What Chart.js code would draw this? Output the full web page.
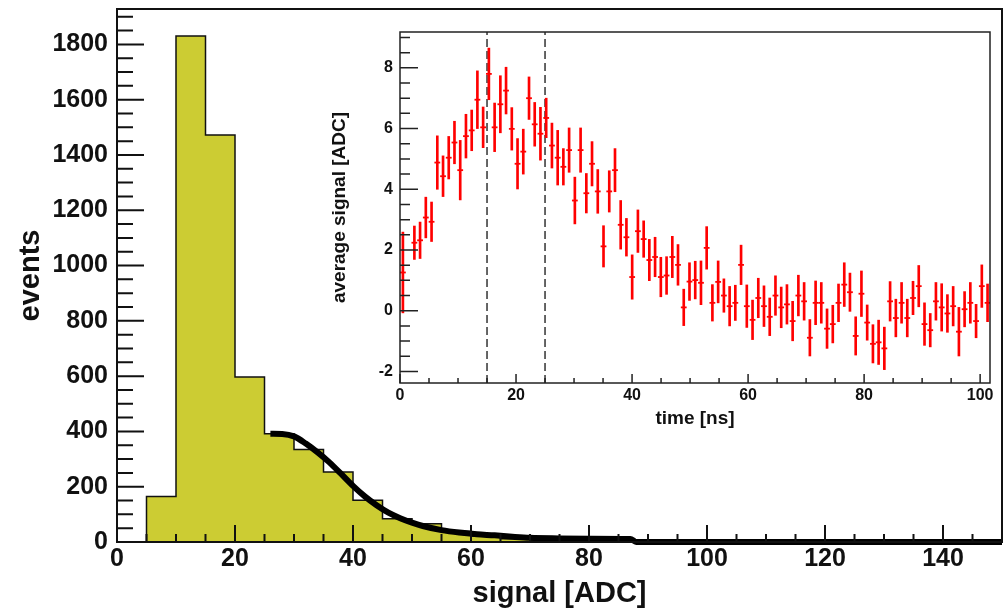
<!DOCTYPE html>
<html>
<head>
<meta charset="utf-8">
<script src="https://cdn.jsdelivr.net/npm/chart.js@4.4.1/dist/chart.umd.min.js"></script>
<style>
  body { margin: 0; background: #fff; }
  #wrap { position: relative; width: 1005px; height: 608px; overflow: hidden; }
  #main-chart { position: absolute; left: 0; top: 0; }
  #inset-chart { position: absolute; left: 320px; top: 20px; }
</style>
</head>
<body>
<div id="wrap">
  <canvas id="main-chart" width="1005" height="608"></canvas>
  <canvas id="inset-chart" width="680" height="420"></canvas>
</div>
<script>
// Main histogram: left bin edges (ADC) and counts
const binWidth = 5;
const signalBins = [5, 10, 15, 20, 25, 30, 35, 40, 45, 50, 55, 60, 65, 70, 75, 80, 85];
const eventCounts = [165, 1830, 1472, 597, 392, 335, 253, 151, 84, 66, 38, 22, 12, 7, 5, 3, 2];

// Fit curve drawn over the tail
const fitSignal = [26, 28, 30, 32, 34, 36, 38, 40, 42, 44, 46, 48, 50, 52, 55, 58, 61, 64, 67, 70, 75, 80, 87, 88, 100, 150];
const fitEvents = [392, 391, 382, 356, 324, 288, 246, 203, 165, 133, 106, 86, 70, 57, 43, 34, 28, 24, 19, 15, 13, 12, 11, 0, 0, 0];

const mainXTicks = [0, 20, 40, 60, 80, 100, 120, 140];
const mainYTicks = [0, 200, 400, 600, 800, 1000, 1200, 1400, 1600, 1800];

// Inset: average signal vs time
const times = [0.50, 2.48, 3.46, 4.45, 5.44, 6.43, 7.42, 8.40, 9.39, 10.38, 11.37, 12.36, 13.34, 14.33, 15.32, 16.31, 17.30, 18.28, 19.27, 20.26,
  21.25, 22.24, 23.22, 24.21, 25.20, 26.19, 27.18, 28.16, 29.15, 30.14, 31.13, 32.12, 33.10, 34.09, 35.08, 36.07, 37.06, 38.04, 39.03, 40.02,
  41.01, 42.00, 42.98, 43.97, 44.96, 45.95, 46.94, 47.92, 48.91, 49.90, 50.89, 51.88, 52.86, 53.85, 54.84, 55.83, 56.82, 57.80, 58.79, 59.78,
  60.77, 61.76, 62.74, 63.73, 64.72, 65.71, 66.70, 67.68, 68.67, 69.66, 70.65, 71.64, 72.62, 73.61, 74.60, 75.59, 76.58, 77.56, 78.55, 79.54,
  80.53, 81.52, 82.50, 83.49, 84.48, 85.47, 86.46, 87.44, 88.43, 89.42, 90.41, 91.40, 92.38, 93.37, 94.36, 95.35, 96.34, 97.32, 98.31, 99.30,
  100.29, 101.28];
const avgSignal = [1.26, 2.24, 2.32, 3.07, 2.93, 4.88, 4.43, 5.04, 5.54, 4.63, 5.75, 5.94, 6.95, 6.04, 7.80, 6.04, 6.80, 7.25, 5.99, 4.84,
  5.24, 7.00, 6.14, 5.83, 6.35, 5.44, 5.04, 4.74, 5.29, 3.63, 5.29, 3.87, 4.84, 3.93, 2.12, 3.93, 4.63, 2.83, 2.42, 1.11,
  2.62, 2.36, 1.67, 1.77, 1.11, 1.16, 1.77, 1.51, 0.11, 0.96, 1.01, 0.92, 2.07, 0.26, 0.95, 0.50, 0.15, 0.26, 1.51, 0.15,
  -0.30, 0.42, 0.15, -0.20, 0.50, 0.11, 0.21, -0.34, 0.50, 0.31, -0.89, 0.26, 0.26, -0.59, -0.44, 0.26, 0.86, 0.61, -0.83, 0.56,
  -0.39, -1.09, -1.04, -1.24, 0.31, -0.24, 0.26, -0.24, 0.42, 0.81, -0.44, -0.64, 0.31, 0.11, -0.09, 0.15, -0.69, 0.05, 0.26, -0.34,
  0.81, 0.26];
const avgSignalErr = [1.33, 0.55, 0.60, 0.67, 0.65, 0.88, 0.67, 0.70, 0.70, 0.98, 0.72, 0.67, 0.95, 0.67, 0.85, 0.80, 0.94, 0.77, 0.70, 0.83,
  0.74, 0.70, 0.72, 0.87, 0.65, 0.74, 0.90, 0.60, 0.73, 0.77, 0.73, 0.65, 0.73, 0.72, 0.68, 0.68, 0.71, 0.80, 0.62, 0.73,
  0.70, 0.60, 0.68, 0.65, 0.65, 0.62, 0.68, 0.67, 0.60, 0.62, 0.62, 0.72, 0.70, 0.60, 0.69, 0.55, 0.65, 0.58, 0.65, 0.70,
  0.65, 0.65, 0.67, 0.62, 0.65, 0.67, 0.65, 0.65, 0.67, 0.62, 0.60, 0.72, 0.67, 0.65, 0.62, 0.62, 0.72, 0.63, 0.63, 0.75,
  0.58, 0.63, 0.73, 0.70, 0.65, 0.62, 0.67, 0.62, 0.55, 0.68, 0.70, 0.55, 0.62, 0.78, 0.62, 0.65, 0.80, 0.58, 0.67, 0.55,
  0.70, 0.62];
const windowTimes = [15, 25];
const insetXTicks = [0, 20, 40, 60, 80, 100];
const insetYTicks = [-2, 0, 2, 4, 6, 8];

Chart.defaults.font.family = "'Liberation Sans', Arial, sans-serif";
Chart.defaults.font.weight = 'bold';
Chart.defaults.color = '#111';

const isMultiple = (v, m) => Math.abs(v / m - Math.round(v / m)) < 1e-6;

// ROOT-style ticks drawn inside the frame, plus the frame itself
const axisTicks = {
  id: 'axisTicks',
  afterDatasetsDraw(chart, args, o) {
    const {ctx, chartArea: a} = chart;
    const sx = chart.scales.x, sy = chart.scales.y;
    ctx.save();
    ctx.strokeStyle = o.color;
    ctx.lineWidth = o.lineWidth;
    ctx.beginPath();
    for (let v = Math.ceil(sx.min / o.xStep) * o.xStep; v <= sx.max + 1e-9; v += o.xStep) {
      const px = sx.getPixelForValue(v);
      const len = isMultiple(v, o.xMajor) ? o.xLong : o.xShort;
      ctx.moveTo(px, a.bottom);
      ctx.lineTo(px, a.bottom - len);
    }
    for (let v = Math.ceil(sy.min / o.yStep) * o.yStep; v <= sy.max + 1e-9; v += o.yStep) {
      const py = sy.getPixelForValue(v);
      const len = isMultiple(v, o.yMajor) ? o.yLong : o.yShort;
      ctx.moveTo(a.left, py);
      ctx.lineTo(a.left + len, py);
    }
    ctx.stroke();
    ctx.lineWidth = o.frameWidth;
    ctx.strokeRect(a.left, a.top, a.right - a.left, a.bottom - a.top);
    ctx.restore();
  }
};

// fixed axis boxes, no extra label padding
const fixX = h => s => { s.height = h; s.paddingLeft = 0; s.paddingRight = 0; };
const fixY = w => s => { s.width = w; s.paddingTop = 0; s.paddingBottom = 0; };

// Main histogram
const histPoints = [{x: signalBins[0], y: 0}];
signalBins.forEach((edge, i) => histPoints.push({x: edge, y: eventCounts[i]}));
histPoints.push({x: signalBins[signalBins.length - 1] + binWidth, y: eventCounts[eventCounts.length - 1]});
histPoints.push({x: signalBins[signalBins.length - 1] + binWidth, y: 0});

new Chart(document.getElementById('main-chart'), {
  type: 'scatter',
  data: {
    datasets: [
      {
        label: 'fit',
        type: 'line',
        data: fitSignal.map((x, i) => ({x: x, y: fitEvents[i]})),
        borderColor: '#000',
        borderWidth: 6,
        pointRadius: 0,
        cubicInterpolationMode: 'monotone',
        fill: false,
        clip: 10,
        order: 0
      },
      {
        label: 'events',
        type: 'line',
        data: histPoints,
        stepped: 'before',
        borderColor: '#111',
        borderWidth: 1.5,
        backgroundColor: '#cccc33',
        fill: 'origin',
        pointRadius: 0,
        order: 1
      }
    ]
  },
  options: {
    responsive: false,
    animation: false,
    layout: { padding: { top: 9, right: 3, left: 0, bottom: 0 } },
    plugins: {
      legend: { display: false },
      tooltip: { enabled: false },
      axisTicks: {
        color: '#111', lineWidth: 2, frameWidth: 2,
        xStep: 5, xMajor: 20, xLong: 17, xShort: 8,
        yStep: 50, yMajor: 200, yLong: 27, yShort: 16
      }
    },
    scales: {
      x: {
        type: 'linear', min: 0, max: 150, offset: false,
        grid: { display: false, drawTicks: false }, border: { display: false },
        afterBuildTicks: s => { s.ticks = mainXTicks.map(v => ({value: v})); },
        afterFit: fixX(66),
        ticks: { autoSkip: false, maxRotation: 0, padding: 2, font: { size: 25 }, callback: v => String(v) },
        title: { display: true, text: 'signal [ADC]', font: { size: 29, lineHeight: 1 }, padding: { top: 0, bottom: 0 } }
      },
      y: {
        type: 'linear', min: 0, max: 1928,
        grid: { display: false, drawTicks: false }, border: { display: false },
        afterBuildTicks: s => { s.ticks = mainYTicks.map(v => ({value: v})); },
        afterFit: fixY(117),
        ticks: { autoSkip: false, padding: 9, font: { size: 25 }, callback: v => String(v) },
        title: { display: true, text: 'events', font: { size: 29, lineHeight: 1 }, padding: { top: 16, bottom: 0 } }
      }
    }
  },
  plugins: [axisTicks]
});

// Inset
new Chart(document.getElementById('inset-chart'), {
  type: 'scatter',
  data: {
    datasets: [
      {
        label: 'error',
        type: 'bar',
        data: times.map((t, i) => ({x: t, y: [avgSignal[i] - avgSignalErr[i], avgSignal[i] + avgSignalErr[i]]})),
        backgroundColor: '#ff0000',
        borderWidth: 0,
        barThickness: 2,
        grouped: false,
        order: 0
      },
      {
        label: 'average signal',
        data: times.map((t, i) => ({x: t, y: avgSignal[i]})),
        pointStyle: 'line',
        pointRadius: 2.9,
        pointBorderWidth: 1.8,
        pointBorderColor: '#ff0000',
        pointBackgroundColor: '#ff0000',
        order: 0
      },
      ...windowTimes.map(t => ({
        label: 'window ' + t,
        type: 'line',
        data: [{x: t, y: -2.38}, {x: t, y: 9.18}],
        borderColor: '#333',
        borderWidth: 1.5,
        borderDash: [8, 4],
        pointRadius: 0,
        fill: false,
        order: 2
      }))
    ]
  },
  options: {
    responsive: false,
    animation: false,
    layout: { padding: { top: 12, right: 10, left: 0, bottom: 0 } },
    plugins: {
      legend: { display: false },
      tooltip: { enabled: false },
      axisTicks: {
        color: '#222', lineWidth: 1.5, frameWidth: 1.5,
        xStep: 5, xMajor: 20, xLong: 9, xShort: 5,
        yStep: 0.5, yMajor: 2, yLong: 18, yShort: 10
      }
    },
    scales: {
      x: {
        type: 'linear', min: 0, max: 101.7, offset: false,
        grid: { display: false, drawTicks: false, offset: false }, border: { display: false },
        afterBuildTicks: s => { s.ticks = insetXTicks.map(v => ({value: v})); },
        afterFit: fixX(57),
        ticks: { autoSkip: false, maxRotation: 0, padding: 3, font: { size: 16 }, callback: v => String(v) },
        title: { display: true, text: 'time [ns]', font: { size: 19, lineHeight: 1 }, padding: { top: 0, bottom: 12 } }
      },
      y: {
        type: 'linear', min: -2.38, max: 9.18,
        grid: { display: false, drawTicks: false }, border: { display: false },
        afterBuildTicks: s => { s.ticks = insetYTicks.map(v => ({value: v})); },
        afterFit: fixY(80),
        ticks: { autoSkip: false, padding: 7, font: { size: 16 }, callback: v => String(v) },
        title: { display: true, text: 'average signal [ADC]', font: { size: 19, lineHeight: 1 }, padding: { top: 10, bottom: 0 } }
      }
    }
  },
  plugins: [axisTicks]
});
</script>
</body>
</html>
